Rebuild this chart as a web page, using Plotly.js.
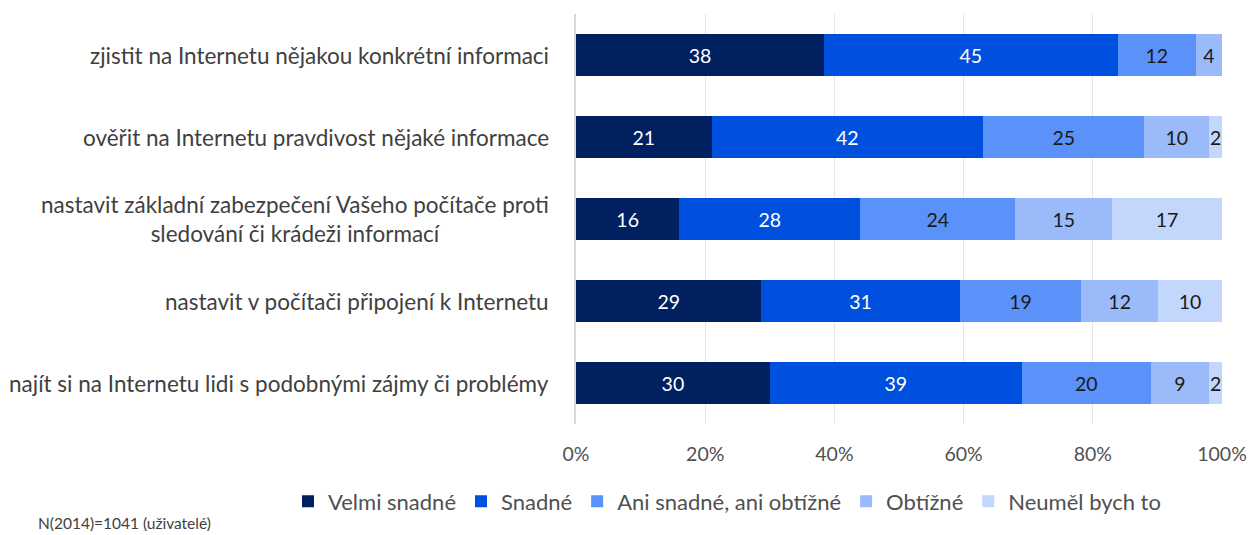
<!DOCTYPE html>
<html>
<head>
<meta charset="utf-8">
<script src="https://cdn.plot.ly/plotly-3.0.1.min.js"></script>
<style>html,body{margin:0;padding:0;background:#fff;}#chart{width:1249px;height:535px;}</style>
</head>
<body>
<div id="chart"></div>
<script>
const categories = [
  "zjistit na Internetu nějakou konkrétní informaci",
  "ověřit na Internetu pravdivost nějaké informace",
  "nastavit základní zabezpečení Vašeho počítače proti<br>sledování či krádeži informací",
  "nastavit v počítači připojení k Internetu",
  "najít si na Internetu lidi s podobnými zájmy či problémy"
];
const seriesNames = ["Velmi snadné", "Snadné", "Ani snadné, ani obtížné", "Obtížné", "Neuměl bych to"];
const velmiSnadne = [38, 21, 16, 29, 30];
const snadne      = [45, 42, 28, 31, 39];
const ani         = [12, 25, 24, 19, 20];
const obtizne     = [4, 10, 15, 12, 9];
const neumel      = [0, 2, 17, 10, 2];
const tickVals = [0, 20, 40, 60, 80, 100];
const tickText = ["0%", "20%", "40%", "60%", "80%", "100%"];
const footnote = "N(2014)=1041 (uživatelé)";

const colors = ["#002060", "#0050E0", "#5B92FA", "#9BBAF9", "#C3D6FC"];
const textColors = ["#ffffff", "#ffffff", "#1a1a1a", "#1a1a1a", "#1a1a1a"];
const allSeries = [velmiSnadne, snadne, ani, obtizne, neumel];
const FONT = "Lato, 'Open Sans', sans-serif";

const traces = allSeries.map((vals, i) => ({
  type: "bar",
  orientation: "h",
  name: seriesNames[i],
  y: categories,
  x: vals,
  marker: {color: colors[i], line: {width: 0}},
  text: vals.map(v => v > 0 ? String(v) : ""),
  textposition: "inside",
  insidetextanchor: "middle",
  textangle: 0,
  constraintext: "none",
  textfont: {family: FONT, size: 19.5, color: textColors[i]},
  hoverinfo: "x+y+name"
}));

const annotations = categories.map(c => ({
  xref: "paper", yref: "y",
  x: 0, y: c,
  xanchor: "right", yanchor: "middle",
  xshift: -25,
  text: c,
  align: "center",
  showarrow: false,
  font: {family: FONT, size: 22.5, color: "#404040"}
}));
annotations.push({
  xref: "paper", yref: "paper",
  x: (36 - 576) / 646, y: (427 - 527) / 413,
  xanchor: "left", yanchor: "middle",
  text: footnote, showarrow: false,
  font: {family: FONT, size: 15.5, color: "#404040"}
});

const layout = {
  width: 1249, height: 535,
  margin: {l: 576, r: 27, t: 14, b: 108, pad: 0},
  paper_bgcolor: "#ffffff", plot_bgcolor: "#ffffff",
  barmode: "stack",
  barnorm: "percent",
  bargap: 0.49,
  showlegend: true,
  legend: {
    orientation: "h",
    x: (288 - 576) / 646, xanchor: "left",
    y: (427 - 505) / 413, yanchor: "middle",
    font: {family: FONT, size: 22, color: "#505050"},
    traceorder: "normal",
    itemwidth: 30
  },
  xaxis: {
    range: [0, 100],
    tickvals: tickVals, ticktext: tickText,
    showgrid: true, gridcolor: "#e6e6e6", gridwidth: 1,
    zeroline: false, showline: false,
    ticks: "", ticklabelstandoff: 16,
    tickfont: {family: FONT, size: 19.5, color: "#505050"},
    fixedrange: true
  },
  yaxis: {
    type: "category",
    autorange: "reversed",
    showticklabels: false,
    showgrid: false,
    zeroline: false,
    showline: true, linecolor: "#d9d9d9", linewidth: 2,
    ticks: "",
    fixedrange: true
  },
  annotations: annotations
};

Plotly.newPlot("chart", traces, layout, {displayModeBar: false, staticPlot: true});
</script>
</body>
</html>
